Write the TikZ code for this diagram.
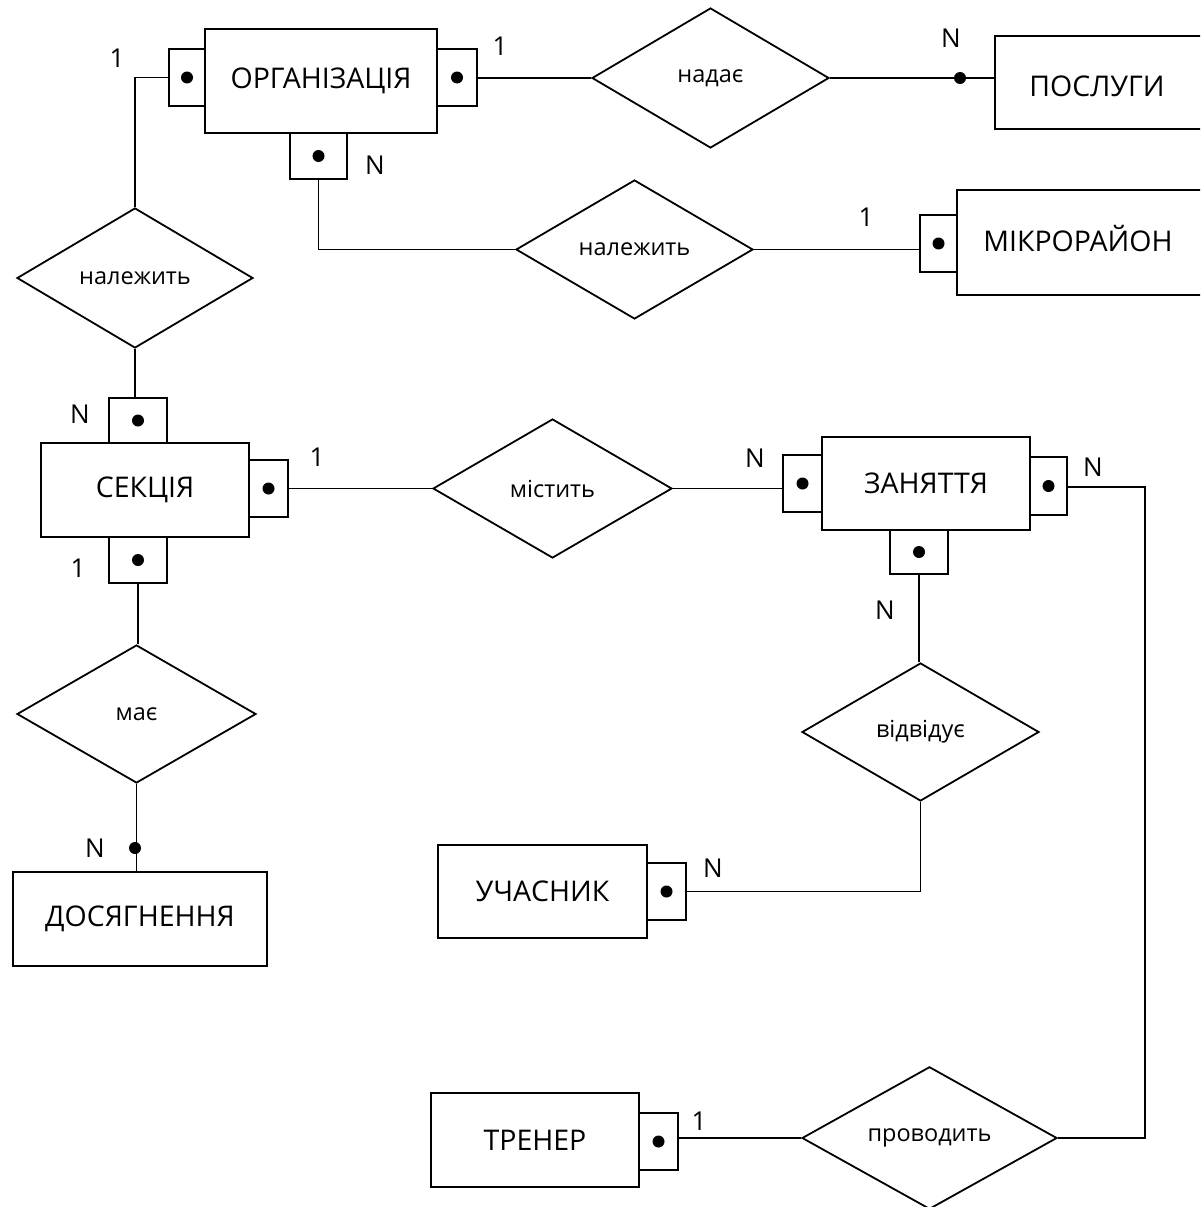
\documentclass[tikz,border=0pt]{standalone}
\usepackage{fontspec}
\setmainfont{Open Sans}
\usetikzlibrary{shapes.geometric}
\begin{document}
\begin{tikzpicture}[x=1pt,y=-1pt,line width=1.8pt,
  entity/.style={draw,rectangle,inner sep=0pt,font=\fontsize{28.5}{30}\selectfont},
  etext/.style={inner sep=0pt,font=\fontsize{28.5}{30}\selectfont},
  sbox/.style={draw,rectangle,inner sep=0pt,
    path picture={\fill[black] (path picture bounding box.center) circle (6pt);}},
  rel/.style={draw,diamond,inner sep=0pt,font=\fontsize{23.5}{26}\selectfont},
  card/.style={inner sep=0pt,font=\fontsize{26}{28}\selectfont},
  dotmark/.style={circle,fill=black,inner sep=0pt,minimum size=12pt}
]
\useasboundingbox (0,0) rectangle (1200,1207);
\clip (0,0) rectangle (1200,1207);

% entities
\node[entity,minimum width=232pt,minimum height=104pt] (org) at (321,81) {ОРГАНІЗАЦІЯ};
\node[entity,minimum width=215pt,minimum height=93pt] (posl) at (1102.5,82.5) {};
\node[etext] (poslt) at (1097,86) {ПОСЛУГИ};
\node[entity,minimum width=250pt,minimum height=105pt] (mikro) at (1082,242.5) {};
\node[etext] (mikrot) at (1078,239) {МІКРОРАЙОН};
\node[entity,minimum width=208pt,minimum height=94pt] (sek) at (145,490) {СЕКЦІЯ};
\node[entity,minimum width=208pt,minimum height=93pt] (zan) at (926,483.5) {ЗАНЯТТЯ};
\node[entity,minimum width=209pt,minimum height=93pt] (uch) at (542.5,891.5) {УЧАСНИК};
\node[entity,minimum width=254pt,minimum height=94pt] (dos) at (140,919) {ДОСЯГНЕННЯ};
\node[entity,minimum width=208pt,minimum height=94pt] (tren) at (535,1140) {ТРЕНЕР};

% small boxes
\node[sbox,minimum width=36pt,minimum height=57pt] (orgL) at (187,77.5) {};
\node[sbox,minimum width=40pt,minimum height=57pt] (orgR) at (457,77.5) {};
\node[sbox,minimum width=57pt,minimum height=46pt] (orgB) at (318.5,156) {};
\node[sbox,minimum width=37pt,minimum height=57pt] (mikroL) at (938.5,243.5) {};
\node[sbox,minimum width=58pt,minimum height=45pt] (sekT) at (138,420.5) {};
\node[sbox,minimum width=39pt,minimum height=57pt] (sekR) at (268.5,488.5) {};
\node[sbox,minimum width=58pt,minimum height=46pt] (sekB) at (138,560) {};
\node[sbox,minimum width=39pt,minimum height=57pt] (zanL) at (802.5,483.5) {};
\node[sbox,minimum width=37pt,minimum height=58pt] (zanR) at (1048.5,486) {};
\node[sbox,minimum width=58pt,minimum height=44pt] (zanB) at (919,552) {};
\node[sbox,minimum width=39pt,minimum height=57pt] (uchR) at (666.5,891.5) {};
\node[sbox,minimum width=39pt,minimum height=57pt] (trenR) at (658.5,1141.5) {};

% relationships
\node[rel,minimum width=237pt,minimum height=140pt] (nadae) at (710.5,78) {надає};
\node[rel,minimum width=237pt,minimum height=139pt] (nalOrg) at (634.5,249.5) {належить};
\node[rel,minimum width=236pt,minimum height=140pt] (nalSek) at (135,278) {належить};
\node[rel,minimum width=239pt,minimum height=139pt] (mist) at (552.5,488.5) {містить};
\node[rel,minimum width=239pt,minimum height=138pt] (maye) at (136.5,714) {має};
\node[rel,minimum width=237pt,minimum height=138pt] (vidv) at (920.5,732) {відвідує};
\node[rel,minimum width=255pt,minimum height=134pt] (prov) at (929.5,1138) {проводить};

% dots on plain connectors
\node[dotmark] (dotPosl) at (960,78) {};
\node[dotmark] (dotDos) at (135,848) {};
\coordinate (cornerZan) at (1145,487);

% connectors
\draw (orgL.west) -| (nalSek.north);
\draw (nalSek.south) -- (nalSek.south |- sekT.north);
\draw (orgR.east |- nadae.west) -- (nadae.west);
\draw (nadae.east) -- (nadae.east -| posl.west);
\draw (orgB.south) |- (nalOrg.west);
\draw (nalOrg.east) -- (nalOrg.east -| mikroL.west);
\draw (sekR.east |- mist.west) -- (mist.west);
\draw (mist.east) -- (mist.east -| zanL.west);
\draw (zanR.east |- cornerZan) -- (cornerZan) |- (prov.east);
\draw (zanB.south) -- (zanB.south |- vidv.north);
\draw (vidv.south) |- (uchR.east);
\draw (sekB.south) -- (sekB.south |- maye.north);
\draw (maye.south) -- (maye.south |- dos.north);
\draw (prov.west -| trenR.east) -- (prov.west);

% cardinalities
\node[card] (c1) at (117,58) {1};
\node[card] (c2) at (500,46) {1};
\node[card] (c3) at (375,165) {N};
\node[card] (c4) at (951,38) {N};
\node[card] (c5) at (866,217) {1};
\node[card] (c6) at (80,414) {N};
\node[card] (c7) at (317,457) {1};
\node[card] (c8) at (78,568) {1};
\node[card] (c9) at (755,458) {N};
\node[card] (c10) at (1093,467) {N};
\node[card] (c11) at (885,610) {N};
\node[card] (c12) at (713,868) {N};
\node[card] (c13) at (95,848) {N};
\node[card] (c14) at (699,1121) {1};
\end{tikzpicture}
\end{document}
